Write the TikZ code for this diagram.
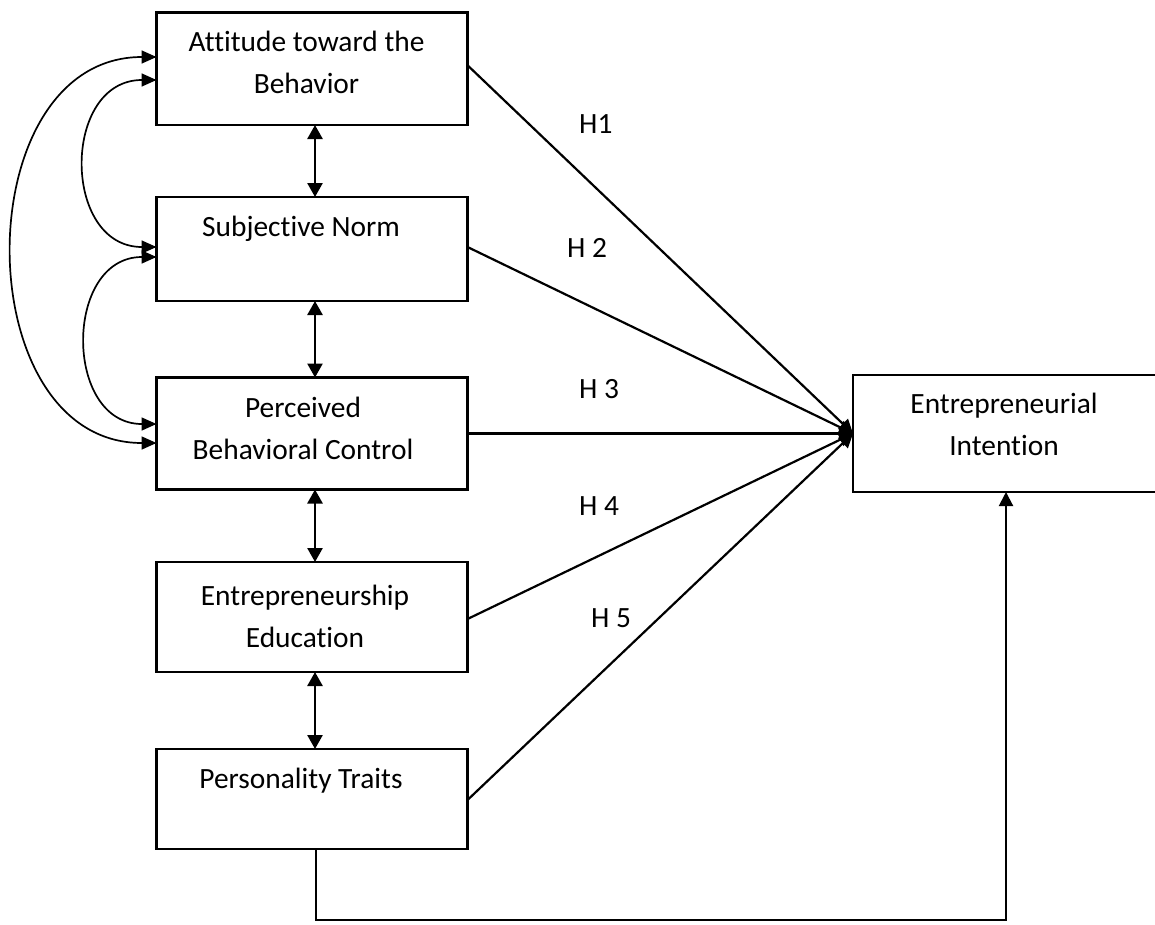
\documentclass[tikz,border=0pt]{standalone}
\usepackage{fontspec}
\setmainfont{Carlito}[Ligatures={NoCommon}]
\usetikzlibrary{arrows.meta,calc}
\begin{document}
\begin{tikzpicture}[x=1pt,y=-1pt,
  box/.style={draw,line width=2.2pt,inner sep=0pt,outer sep=0pt,rectangle},
  txt/.style={font=\fontsize{29.4}{41.5}\selectfont,align=center,inner sep=0pt,anchor=base},
  hlab/.style={font=\fontsize{29.4}{35}\selectfont,inner sep=0pt,anchor=base west},
  tip/.style={-{Triangle[length=14pt,width=14pt]}},
  dtip/.style={{Triangle[length=14pt,width=15pt]}-{Triangle[length=14pt,width=15pt]}},
  hyp/.style={line width=2.2pt,tip},
  vlink/.style={line width=2.6pt,dtip},
  curve/.style={line width=1.7pt,{Triangle[length=15pt,width=13pt]}-{Triangle[length=15pt,width=13pt]}}]
\useasboundingbox (0,0) rectangle (1155,924);
\clip (0,0) rectangle (1155,924);
\fill[white] (0,0) rectangle (1155,924);

% boxes
\node[box,minimum width=311pt,minimum height=112.5pt] (att) at (312,68.75) {};
\node[box,minimum width=311pt,minimum height=104pt] (sn) at (312,249) {};
\node[box,minimum width=311pt,minimum height=112pt] (pbc) at (312,433.5) {};
\node[box,minimum width=311pt,minimum height=110pt] (ee) at (312,617) {};
\node[box,minimum width=311pt,minimum height=100pt] (pt) at (312,799) {};
\node[box,minimum width=306pt,minimum height=117pt] (ei) at (1006,433.5) {};

% texts (anchor = baseline of last line)
\node[txt] (tatt) at (306.5,93.3) {Attitude toward the\\Behavior};
\node[txt] (tsn) at (301,236.7) {Subjective Norm};
\node[txt] (tpbc) at (303,459.3) {Perceived\\Behavioral Control};
\node[txt] (tee) at (305,647) {Entrepreneurship\\Education};
\node[txt] (tpt) at (301,788) {Personality Traits};
\node[txt] (tei) at (1004,455) {Entrepreneurial\\Intention};

% hypothesis labels
\node[hlab] (h1) at (579,133) {H1};
\node[hlab] (h2) at (567,257) {H 2};
\node[hlab] (h3) at (579,398) {H 3};
\node[hlab] (h4) at (579,515) {H 4};
\node[hlab] (h5) at (591,627) {H 5};

% hypothesis paths
\draw[hyp] ([yshift=3.5pt]att.east) -- (ei.west);
\draw[hyp] ([yshift=2pt]sn.east) -- (ei.west);
\draw[hyp] (pbc.east) -- (ei.west);
\draw[hyp] ([yshift=-2pt]ee.east) -- (ei.west);
\draw[hyp] ([yshift=-1pt]pt.east) -- (ei.west);

% vertical correlations
\draw[vlink] ([xshift=3pt]att.south) -- ([xshift=3pt]sn.north);
\draw[vlink] ([xshift=3pt]sn.south) -- ([xshift=3pt]pbc.north);
\draw[vlink] ([xshift=3pt]pbc.south) -- ([xshift=3pt]ee.north);
\draw[vlink] ([xshift=3pt]ee.south) -- ([xshift=3pt]pt.north);

% curved correlations
\draw[curve] ([yshift=11.75pt]att.west) .. controls +(-191,0) and +(-191,0) .. ([yshift=-9.5pt]pbc.west);
\draw[curve] ([yshift=-11.25pt]att.west) .. controls +(-95,0) and +(-95,0) .. ([yshift=2pt]sn.west);
\draw[curve] ([yshift=-8pt]sn.west) .. controls +(-93,0) and +(-93,0) .. ([yshift=9.5pt]pbc.west);

% personality traits to intention
\coordinate (bl) at ([xshift=3.5pt]pt.south |- 0,920);
\draw[line width=2pt,tip] ([xshift=3.5pt]pt.south) -- (bl) -| (ei.south);
\end{tikzpicture}
\end{document}
